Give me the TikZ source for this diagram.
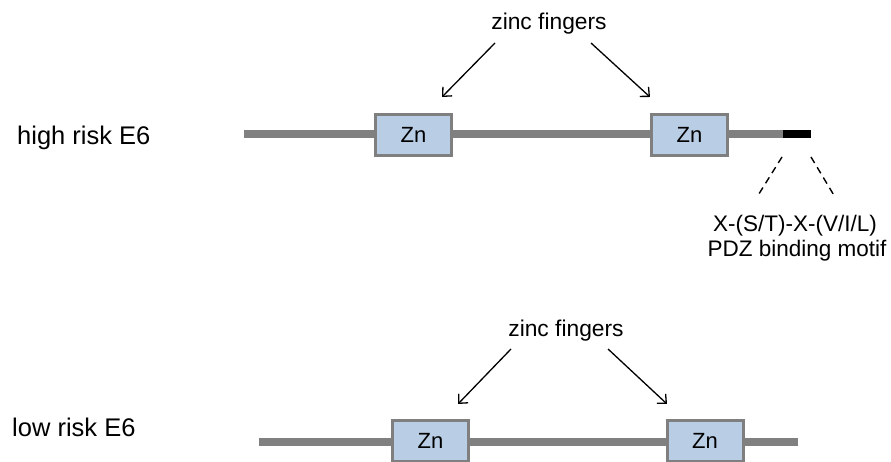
\documentclass[tikz,border=0pt]{standalone}
\usepackage{fontspec}
\setmainfont{Liberation Sans}
\usetikzlibrary{arrows.meta}
\definecolor{backbone}{HTML}{808080}
\definecolor{znfill}{HTML}{B9CDE5}
\definecolor{znedge}{HTML}{7F7F7F}
\tikzset{
  chain/.style={draw=backbone, line width=8.5pt},
  motifbar/.style={draw=black, line width=8pt},
  znbox/.style={draw=znedge, fill=znfill, line width=3pt, minimum width=76pt,
    minimum height=41pt, inner sep=0pt, font=\fontsize{22}{26}\selectfont},
  rowlabel/.style={anchor=base west, inner sep=0pt, font=\fontsize{25.5}{30}\selectfont},
  callout/.style={anchor=base, inner sep=0pt, font=\fontsize{22.8}{27}\selectfont},
  pointer/.style={-{Straight Barb[length=7pt,width=13pt]}, line width=1.3pt},
  leader/.style={dashed, dash pattern=on 7pt off 5pt, line width=1.4pt}
}
\begin{document}
\begin{tikzpicture}[x=1pt,y=1pt]
\useasboundingbox (0,0) rectangle (891,462);

% ---------- high risk E6 ----------
\node[rowlabel] (hrlab) at (17,317) {high risk E6};
\coordinate (hrL) at (244,328);
\coordinate (hrR) at (783,328);
\coordinate (pdzL) at (783,328);
\coordinate (pdzR) at (811,328);
\draw[chain] (hrL) -- (hrR);
\draw[motifbar] (pdzL) -- (pdzR);
\node[znbox] (hz1) at (413.5,327) {Zn};
\node[znbox] (hz2) at (689.5,327) {Zn};

\node[callout] (hzf) at (549,432) {zinc fingers};
\coordinate (hzfL) at (495,419);
\coordinate (hzfR) at (591,419);
\coordinate (hz1tip) at (442,365);
\coordinate (hz2tip) at (650,365);
\draw[pointer] (hzfL) -- (hz1tip);
\draw[pointer] (hzfR) -- (hz2tip);

% PDZ binding motif call-out
\coordinate (pdzTL) at (782,305);
\coordinate (pdzTR) at (811,305);
\coordinate (pdzBL) at (757,265);
\coordinate (pdzBR) at (835,265);
\draw[leader] (pdzTL) -- (pdzBL);
\draw[leader] (pdzTR) -- (pdzBR);
\node[callout, font=\fontsize{22.5}{27}\selectfont] (motif1) at (795,230) {X-(S/T)-X-(V/I/L)};
\node[callout, font=\fontsize{22.5}{27}\selectfont] (motif2) at (797,205) {PDZ binding motif};

% ---------- low risk E6 ----------
\node[rowlabel] (lrlab) at (12,25) {low risk E6};
\coordinate (lrL) at (259,20);
\coordinate (lrR) at (798,20);
\draw[chain] (lrL) -- (lrR);
\node[znbox] (lz1) at (430.5,21) {Zn};
\node[znbox] (lz2) at (705,21) {Zn};

\node[callout] (lzf) at (566,125) {zinc fingers};
\coordinate (lzfL) at (511,113);
\coordinate (lzfR) at (608,113);
\coordinate (lz1tip) at (458,58);
\coordinate (lz2tip) at (667,58);
\draw[pointer] (lzfL) -- (lz1tip);
\draw[pointer] (lzfR) -- (lz2tip);
\end{tikzpicture}
\end{document}
